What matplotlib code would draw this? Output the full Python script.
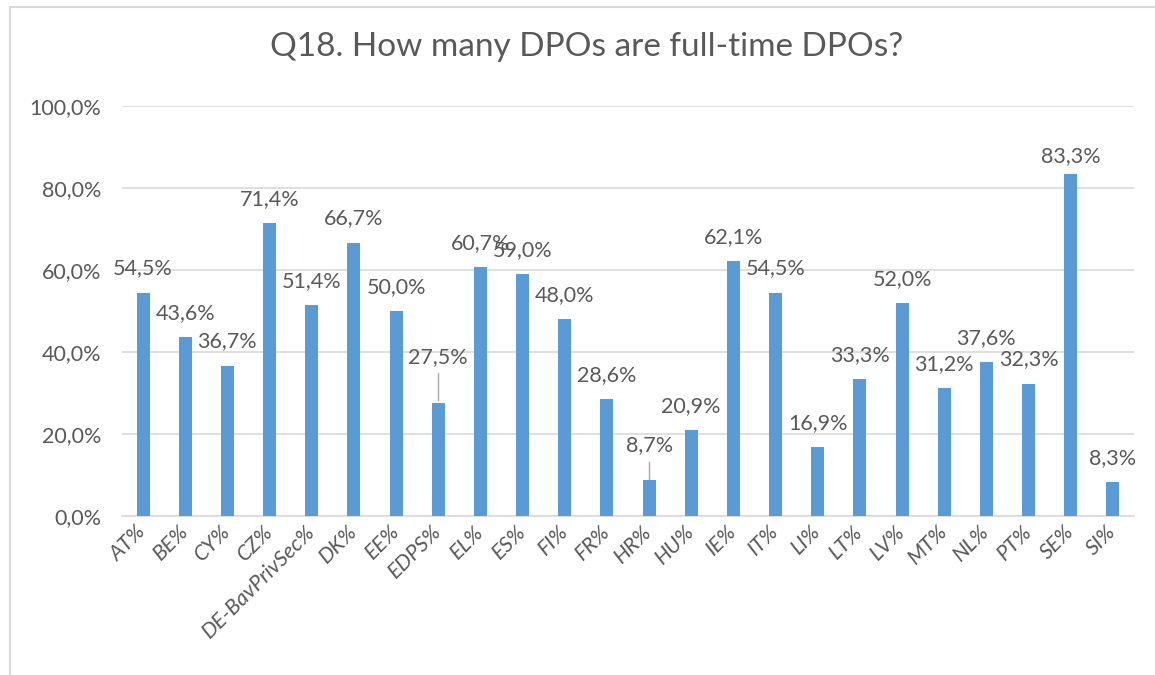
import numpy as np
import matplotlib.pyplot as plt
from matplotlib.patches import Rectangle

countries = ['AT%', 'BE%', 'CY%', 'CZ%', 'DE-BavPrivSec%', 'DK%', 'EE%', 'EDPS%',
             'EL%', 'ES%', 'FI%', 'FR%', 'HR%', 'HU%', 'IE%', 'IT%', 'LI%', 'LT%',
             'LV%', 'MT%', 'NL%', 'PT%', 'SE%', 'SI%']
full_time = [54.5, 43.6, 36.7, 71.4, 51.4, 66.7, 50.0, 27.5,
             60.7, 59.0, 48.0, 28.6, 8.7, 20.9, 62.1, 54.5, 16.9, 33.3,
             52.0, 31.2, 37.6, 32.3, 83.3, 8.3]

# label lift above bar top (pixels); a few are pushed up with leader lines
label_lift = [24] * len(countries)
label_lift[7] = 46   # EDPS
label_lift[12] = 35  # HR
label_lift[22] = 18  # SE
leaders = {7: (3, 30), 12: (1, 18)}  # leader line start/end in px above bar

plt.rcParams['font.family'] = ['Lato', 'DejaVu Sans']
text_col = '#595959'
bar_col = '#5B9BD5'

fig = plt.figure(figsize=(11.55, 6.75), dpi=100)
ax = fig.add_axes([122 / 1155, 1 - 516 / 675, (1134 - 122) / 1155, 410 / 675])

x = np.arange(len(countries))
ax.bar(x, full_time, width=0.31, color=bar_col, zorder=3)

ax.set_xlim(-0.5, len(countries) - 0.5)
ax.set_ylim(0, 100)
ax.set_yticks(np.arange(0, 101, 20))
ax.set_yticklabels([f'{v:.1f}%'.replace('.', ',') for v in np.arange(0, 101, 20)],
                   color=text_col, fontsize=15.5)
ax.yaxis.grid(True, color='#D9D9D9', linewidth=1.2, zorder=0)
ax.tick_params(axis='y', length=0, pad=15)
ax.tick_params(axis='x', length=0, pad=9)
for s in ['top', 'right', 'left']:
    ax.spines[s].set_visible(False)
ax.spines['bottom'].set_color('#D9D9D9')
ax.spines['bottom'].set_linewidth(1.2)

ax.set_xticks(x)
ax.set_xticklabels(countries, rotation=45, ha='right', va='center',
                   rotation_mode='anchor', style='italic', color=text_col, fontsize=15.5)

px = 100 / 410  # data units per pixel on the y axis
for i, v in enumerate(full_time):
    ax.annotate(f'{v:.1f}%'.replace('.', ','), (i, v), xytext=(0, label_lift[i]),
                textcoords='offset pixels', ha='center', va='center',
                color=text_col, fontsize=15.5)
    if i in leaders:
        lo, hi = leaders[i]
        ax.plot([i, i], [v + lo * px, v + hi * px], color='#A6A6A6',
                linewidth=1, zorder=4)

fig.text(587 / 1155, 1 - 47 / 675, 'Q18. How many DPOs are full-time DPOs?',
         ha='center', va='center', fontsize=24, color=text_col)

fig.patches.append(Rectangle((10 / 1155, -0.1), 1.2, 1 - 7 / 675 + 0.1,
                             transform=fig.transFigure, fill=False,
                             edgecolor='#D9D9D9', linewidth=1.5))

fig.savefig('out.png', dpi=100)
